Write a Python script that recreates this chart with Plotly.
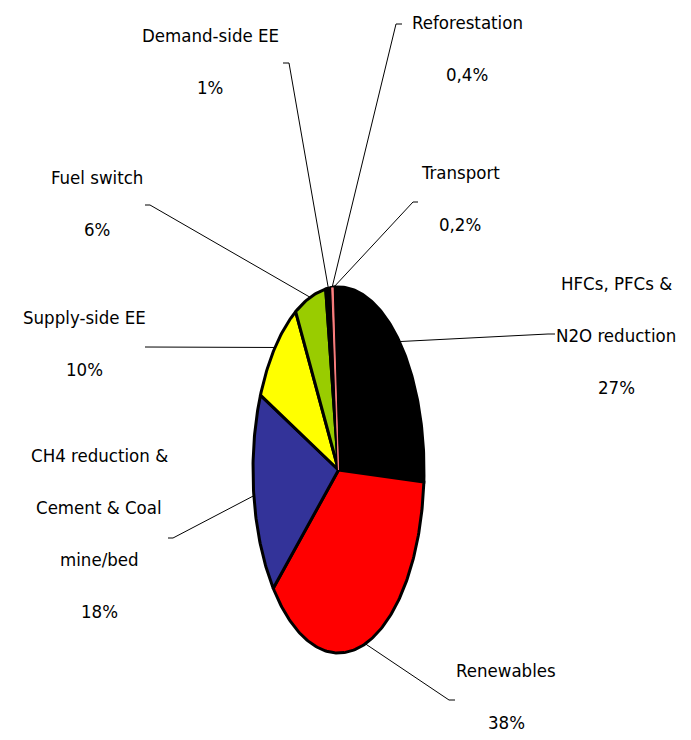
import numpy as np
import plotly.graph_objects as go

# ---- data ----
categories = ["HFCs, PFCs &\nN2O reduction", "Renewables", "CH4 reduction &\nCement & Coal\nmine/bed",
              "Supply-side EE", "Fuel switch", "Demand-side EE", "Reforestation", "Transport"]
values = [27, 38, 18, 10, 6, 1, 0.4, 0.2]
pct_labels = ["27%", "38%", "18%", "10%", "6%", "1%", "0,4%", "0,2%"]
colors = ["#000000", "#FF0000", "#333399", "#FFFF00", "#99CC00", "#000000", "#FF8080", "#000000"]

# ---- layout constants (pixel space) ----
W, H = 691, 740
CX, CY, RX, RY = 338.5, 470.0, 85.5, 183.0
ROT = -0.008  # start offset (fraction of full turn)
FONT = "DejaVu Sans Condensed, Liberation Sans Narrow, Liberation Sans, sans-serif"
FS = 18.5
LINE_GAP = 52
# label centre of first line, and leader stub points (outer end, inner end)
label_pos = [(616, 283), (506, 670), (99, 455), (84, 317), (97, 177), (210, 35), (467, 22), (460, 172)]
stubs = [((555, 334), (548, 334)), ((455, 700), (449, 700)), ((168, 538), (173, 538)),
         ((145, 347), (150, 347)), ((145, 205), (150, 205)), ((283, 63), (289, 63)),
         ((402, 24), (396, 24)), ((418, 202), (413, 202))]

total = float(sum(values))
fracs = np.array(values) / total
cum = np.concatenate([[0], np.cumsum(fracs)])

fig = go.Figure()


def ell(t):
    ang = 2 * np.pi * (t + ROT)
    return CX + RX * np.sin(ang), CY - RY * np.cos(ang)


def slice_xy(i):
    t = np.linspace(cum[i], cum[i + 1], max(4, int(400 * fracs[i])))
    ex, ey = ell(t)
    return np.concatenate([[CX], ex, [CX]]), np.concatenate([[CY], ey, [CY]])


for i, v in enumerate(values):
    xs, ys = slice_xy(i)
    fig.add_trace(go.Scatter(x=xs, y=ys, mode="lines", fill="toself", fillcolor=colors[i],
                             line=dict(color="black", width=3), hoverinfo="skip",
                             showlegend=False))

# thin slices redrawn on top with a fine outline so their colour stays visible
for i, v in enumerate(values):
    if fracs[i] < 0.006 and colors[i] != "#000000":
        xs, ys = slice_xy(i)
        fig.add_trace(go.Scatter(x=xs, y=ys, mode="lines", fill="toself", fillcolor=colors[i],
                                 line=dict(color=colors[i], width=1), hoverinfo="skip",
                                 showlegend=False))

# leader lines
for i in range(len(values)):
    mx, my = ell((cum[i] + cum[i + 1]) / 2)
    (ox, oy), (ix, iy) = stubs[i]
    fig.add_trace(go.Scatter(x=[ox, ix, mx], y=[oy, iy, my], mode="lines",
                             line=dict(color="black", width=1), hoverinfo="skip", showlegend=False))

# labels
for i, cat in enumerate(categories):
    lines = cat.split("\n") + [pct_labels[i]]
    lx, ly = label_pos[i]
    for k, txt in enumerate(lines):
        fig.add_annotation(x=lx, y=ly + k * LINE_GAP, text=txt, showarrow=False,
                           xanchor="center", yanchor="middle",
                           font=dict(family=FONT, size=FS, color="black"))

fig.update_layout(width=W, height=H, margin=dict(l=0, r=0, t=0, b=0),
                  paper_bgcolor="white", plot_bgcolor="white",
                  xaxis=dict(range=[0, W], visible=False, fixedrange=True),
                  yaxis=dict(range=[H, 0], visible=False, fixedrange=True))

fig.write_html("out.html", config={"displayModeBar": False},
               post_script="document.body.style.margin='0';document.body.style.overflow='hidden';")
